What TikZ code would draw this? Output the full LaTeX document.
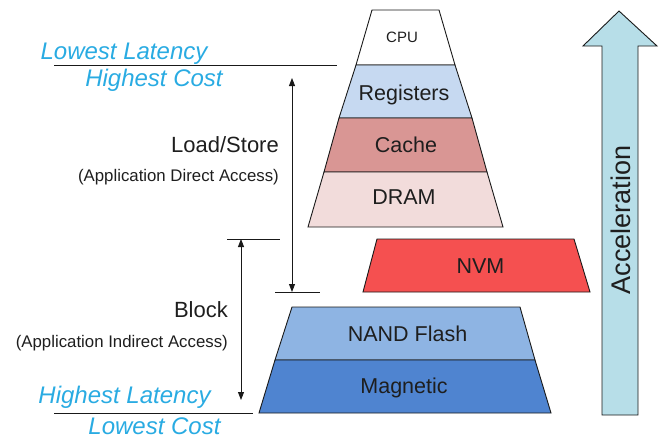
\documentclass[tikz,border=0pt]{standalone}
\usepackage{fontspec}
\setmainfont{Liberation Sans}
\usetikzlibrary{arrows.meta}
\definecolor{cyantext}{RGB}{41,171,226}
\definecolor{regcol}{RGB}{198,217,241}
\definecolor{cachecol}{RGB}{217,150,148}
\definecolor{dramcol}{RGB}{242,220,219}
\definecolor{nvmcol}{RGB}{245,80,80}
\definecolor{nandcol}{RGB}{142,180,227}
\definecolor{magcol}{RGB}{79,132,208}
\definecolor{accelcol}{RGB}{183,222,232}
\definecolor{textdark}{RGB}{30,30,30}
\definecolor{linecol}{RGB}{25,25,25}
\tikzset{
  layer/.style={draw=linecol, line width=0.9pt, line join=miter},
  lbl/.style={text=textdark, inner sep=0pt, anchor=base, font=\fontsize{21.5}{25}\selectfont},
  smalllbl/.style={text=textdark, inner sep=0pt, anchor=base east, font=\fontsize{16.8}{20}\selectfont},
  biglbl/.style={text=textdark, inner sep=0pt, anchor=base east, font=\fontsize{22}{26}\selectfont},
  sidetext/.style={text=cyantext, inner sep=0pt, anchor=base, font=\fontsize{24}{28}\selectfont\itshape},
  rule/.style={draw=linecol, line width=0.9pt},
  dimarrow/.style={draw=linecol, line width=0.9pt, {Triangle[length=8pt,width=6pt]}-{Triangle[length=8pt,width=6pt]}}
}
\begin{document}
\begin{tikzpicture}[x=1pt,y=-1pt]
\useasboundingbox (0,0) rectangle (663,439);

% upper pyramid
\filldraw[layer, fill=white]    (372,10) -- (439,10) -- (455,65) -- (356,65) -- cycle;
\filldraw[layer, fill=regcol]   (356,65) -- (455,65) -- (472,118) -- (339,118) -- cycle;
\filldraw[layer, fill=cachecol] (339,118) -- (472,118) -- (487,172) -- (324,172) -- cycle;
\filldraw[layer, fill=dramcol]  (324,172) -- (487,172) -- (503,227) -- (308,227) -- cycle;
% NVM
\filldraw[layer, fill=nvmcol]   (377,239) -- (574,239) -- (590,292) -- (363,292) -- cycle;
% lower pyramid
\filldraw[layer, fill=nandcol]  (292,307) -- (520,307) -- (535,360) -- (275,360) -- cycle;
\filldraw[layer, fill=magcol]   (275,360) -- (535,360) -- (551,413) -- (259,413) -- cycle;

% acceleration arrow
\filldraw[layer, fill=accelcol] (619,11) -- (657,46) -- (638,46) -- (638,415) -- (602,415) -- (602,46) -- (583,46) -- cycle;
\node[text=textdark, inner sep=0pt, rotate=90, font=\fontsize{27}{31}\selectfont] (accel) at (621,220) {Acceleration};

% layer labels
\node[lbl, font=\fontsize{15}{18}\selectfont] (cpu) at (402,42) {CPU};
\node[lbl] (reg) at (404,100) {Registers};
\node[lbl] (cache) at (406,152) {Cache};
\node[lbl] (dram) at (404,204) {DRAM};
\node[lbl] (nvm) at (480.5,273) {NVM};
\node[lbl] (nand) at (407.5,341) {NAND Flash};
\node[lbl] (mag) at (404,393) {Magnetic};

% rules
\coordinate (topA) at (54,65);
\coordinate (topB) at (337,65);
\draw[rule] (topA) -- (topB);
\coordinate (midA) at (275,292);
\coordinate (midB) at (320,292);
\draw[rule] (midA) -- (midB);
\coordinate (blkA) at (227,239);
\coordinate (blkB) at (280,239);
\draw[rule] (blkA) -- (blkB);
\coordinate (botA) at (54,413);
\coordinate (botB) at (253,413);
\draw[rule] (botA) -- (botB);

% dimension arrows
\coordinate (lsTop) at (292,78);
\coordinate (lsBot) at (292,292);
\draw[dimarrow] (lsTop) -- (lsBot);
\coordinate (bkTop) at (241,239);
\coordinate (bkBot) at (241,400);
\draw[dimarrow] (bkTop) -- (bkBot);

% side texts
\node[sidetext] (lowlat) at (124,59) {Lowest Latency};
\node[sidetext] (highcost) at (154,86) {Highest Cost};
\node[sidetext] (highlat) at (124.5,403) {Highest Latency};
\node[sidetext] (lowcost) at (154.5,434) {Lowest Cost};

\node[biglbl] (ls) at (279,152) {Load/Store};
\node[smalllbl] (lsdesc) at (279,181) {(Application Direct Access)};
\node[biglbl] (blk) at (228,317) {Block};
\node[smalllbl] (blkdesc) at (228,347) {(Application Indirect Access)};
\end{tikzpicture}
\end{document}
